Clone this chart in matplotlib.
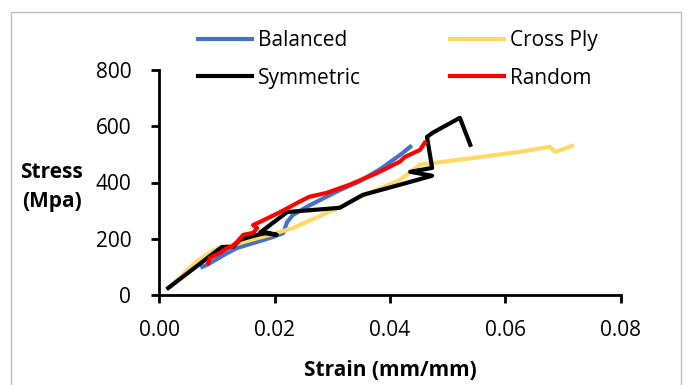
import matplotlib
matplotlib.use('Agg')
import matplotlib.pyplot as plt
from matplotlib.patches import Rectangle

plt.rcParams['font.family'] = ['Open Sans', 'DejaVu Sans']

# curves (strain mm/mm, stress MPa)
balanced_x = [0.0075, 0.0083, 0.0118, 0.0135, 0.0197, 0.0215, 0.0222, 0.0232, 0.026, 0.031, 0.0348, 0.0385, 0.0422, 0.0435]
balanced_y = [100, 107, 149, 167, 206, 220, 260, 285, 318, 370, 405, 450, 505, 527]

crossply_x = [0.002, 0.0065, 0.0095, 0.014, 0.0204, 0.0232, 0.0313, 0.0348, 0.0417, 0.0452, 0.0625, 0.0677, 0.0686, 0.0715]
crossply_y = [30, 120, 160, 185, 221, 238, 313, 349, 409, 463, 509, 527, 509, 530]

symmetric_x = [0.0016, 0.0109, 0.0128, 0.014, 0.0163, 0.0187, 0.0204, 0.0175, 0.0222, 0.0313, 0.0353, 0.0417,
               0.0473, 0.0435, 0.0473, 0.0464, 0.0474, 0.0521, 0.0539]
symmetric_y = [25, 171, 171, 196, 210, 222, 214, 222, 295, 310, 356, 392,
               424, 438, 452, 562, 577, 630, 534]

random_x = [0.0085, 0.0088, 0.0106, 0.0118, 0.0126, 0.0135, 0.0146, 0.0163, 0.017, 0.0163, 0.0175, 0.021,
            0.0239, 0.026, 0.029, 0.033, 0.0378, 0.0417, 0.0426, 0.0452, 0.046]
random_y = [114, 132, 150, 167, 171, 189, 214, 221, 238, 249, 260, 295,
            327, 349, 363, 392, 434, 474, 491, 516, 541]

fig = plt.figure(figsize=(6.86, 3.85), dpi=100)
ax = fig.add_axes([159/686, (385-295)/385, 462/686, 225/385])

l_bal, = ax.plot(balanced_x, balanced_y, color='#4472C4', lw=3, label='Balanced')
l_cp, = ax.plot(crossply_x, crossply_y, color='#FFD966', lw=3, label='Cross Ply')
l_sym, = ax.plot(symmetric_x, symmetric_y, color='black', lw=3, label='Symmetric')
l_rnd, = ax.plot(random_x, random_y, color='#FF0000', lw=3, label='Random')

ax.set_xlim(0, 0.08)
ax.set_ylim(0, 800)
ax.set_xticks([0, 0.02, 0.04, 0.06, 0.08])
ax.set_xticklabels(['0.00', '0.02', '0.04', '0.06', '0.08'])
ax.set_yticks([0, 200, 400, 600, 800])
for s in ['top', 'right']:
    ax.spines[s].set_visible(False)
for s in ['left', 'bottom']:
    ax.spines[s].set_linewidth(2)
ax.tick_params(length=6, width=2, labelsize=15)
ax.tick_params(axis='x', pad=12)
ax.tick_params(axis='y', pad=14)

ax.set_xlabel('Strain (mm/mm)', fontsize=15, fontweight='bold', labelpad=14)
ax.set_ylabel('Stress\n(Mpa)', fontsize=15, fontweight='bold', rotation=0,
              ha='center', va='center', linespacing=1.45)
ax.yaxis.set_label_coords(-0.232, 0.48)

fig.legend([l_bal, l_sym, l_cp, l_rnd], ['Balanced', 'Symmetric', 'Cross Ply', 'Random'],
           ncol=2, loc='upper left', bbox_to_anchor=(198/686, 1 - 30/385), frameon=False,
           fontsize=15, handlelength=2.6, handletextpad=0.3, columnspacing=4.25,
           labelspacing=0.8, borderaxespad=0, borderpad=0)

fig.patches.append(Rectangle((11/686, -0.02), 670/686, 1 - 12/385 + 0.02, transform=fig.transFigure,
                             fill=False, edgecolor='#BFBFBF', lw=1))

fig.savefig('out.png', dpi=100)
